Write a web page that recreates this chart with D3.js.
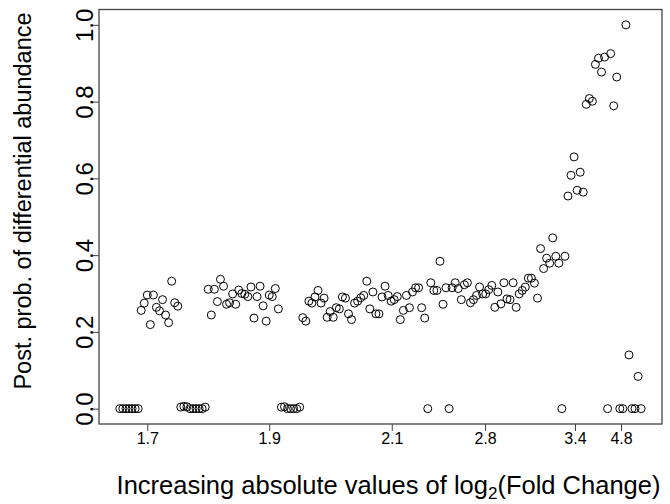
<!DOCTYPE html>
<html>
<head>
<meta charset="utf-8">
<script src="https://cdn.jsdelivr.net/npm/d3@7"></script>
<style>
  html, body { margin: 0; padding: 0; background: #fff; }
  svg { display: block; }
  text { font-family: "Liberation Sans", Arial, Helvetica, sans-serif; fill: #000; }
</style>
</head>
<body>
<svg id="chart" width="670" height="504"></svg>
<script>
// Posterior probability of differential abundance, genes ordered by |log2 FC|
const probValues = [
  0, 0, 0, 0, 0, 0, 0,
  0.256, 0.275, 0.296, 0.219, 0.296, 0.264, 0.255, 0.284, 0.244, 0.224, 0.332, 0.276, 0.267,
  0.004, 0.006, 0.005, 0, 0, 0, 0, 0, 0.004,
  0.311, 0.244, 0.311, 0.279, 0.337, 0.319, 0.272, 0.276, 0.299, 0.272, 0.309, 0.300,
  0.298, 0.292, 0.317, 0.236, 0.292, 0.319, 0.268, 0.228, 0.296, 0.292, 0.313, 0.260,
  0.004, 0.005, 0, 0, 0, 0, 0.004,
  0.237, 0.228, 0.280, 0.275, 0.291, 0.308, 0.275, 0.288, 0.238, 0.253, 0.238, 0.263,
  0.260, 0.291, 0.288, 0.247, 0.232, 0.275, 0.280, 0.289, 0.295, 0.332, 0.260, 0.304,
  0.247, 0.247, 0.291, 0.319, 0.295, 0.280, 0.284, 0.292, 0.232, 0.256, 0.295, 0.263,
  0.304, 0.315, 0.315, 0.263, 0.236, 0, 0.328, 0.308, 0.308, 0.384, 0.272, 0.315,
  0, 0.315, 0.328, 0.313, 0.284, 0.323, 0.328, 0.276, 0.284, 0.295, 0.317,
  0.299, 0.299, 0.310, 0.321, 0.264, 0.304, 0.273, 0.328, 0.286, 0.284, 0.328, 0.264,
  0.299, 0.308, 0.317, 0.340, 0.340, 0.327, 0.288,
  0.417, 0.365, 0.392, 0.379, 0.445, 0.397, 0.379, 0, 0.397,
  0.554, 0.608, 0.656, 0.569, 0.616, 0.564,
  0.793, 0.808, 0.801, 0.897, 0.913, 0.877, 0.916, 0, 0.925, 0.789, 0.864,
  0, 0, 1.000, 0.140, 0, 0, 0.084, 0
];

// x-axis ticks: positions (gene rank) and their |log2 FC| labels
const xTickPositions = [9, 49, 89.2, 119.8, 149.3, 164.4];
const xTickLabels = ["1.7", "1.9", "2.1", "2.8", "3.4", "4.8"];
const yTickValues = [0, 0.2, 0.4, 0.6, 0.8, 1.0];

const points = probValues.map((v, i) => ({ idx: i, v: v }));

const svg = d3.select("#chart");
const mLeft = 99, mRight = 662, mTop = 9.5, mBottom = 424;

const n = probValues.length - 1;
const x = d3.scaleLinear().domain([-0.04 * n, n * 1.04]).range([mLeft, mRight]);
const y = d3.scaleLinear().domain([-0.04, 1.04]).range([mBottom, mTop]);

const axisColor = "#444";

// points
svg.append("g")
  .selectAll("circle")
  .data(points)
  .join("circle")
  .attr("cx", d => x(d.idx))
  .attr("cy", d => y(d.v))
  .attr("r", 4)
  .attr("fill", "none")
  .attr("stroke", "#000")
  .attr("stroke-width", 1);

// box
svg.append("rect")
  .attr("x", mLeft).attr("y", mTop)
  .attr("width", mRight - mLeft).attr("height", mBottom - mTop)
  .attr("fill", "none")
  .attr("stroke", axisColor)
  .attr("stroke-width", 1.3);

// x axis
const xAxis = d3.axisBottom(x)
  .tickValues(xTickPositions)
  .tickFormat((d, i) => xTickLabels[i])
  .tickSize(7)
  .tickSizeOuter(0);
const gx = svg.append("g").attr("transform", `translate(0,${mBottom})`).call(xAxis);
gx.select(".domain").remove();
gx.selectAll(".tick line").attr("stroke", axisColor).attr("stroke-width", 1);
gx.selectAll(".tick text")
  .attr("y", 19.5).attr("dy", 0)
  .style("font-size", "16px")
  .style("font-family", '"Liberation Sans", Arial, Helvetica, sans-serif')
  .attr("fill", "#000");

// y axis
const yAxis = d3.axisLeft(y)
  .tickValues(yTickValues)
  .tickFormat(d3.format(".1f"))
  .tickSize(6)
  .tickSizeOuter(0);
const gy = svg.append("g").attr("transform", `translate(${mLeft},0)`).call(yAxis);
gy.select(".domain").remove();
gy.selectAll(".tick line").attr("stroke", axisColor).attr("stroke-width", 1);
gy.selectAll(".tick text")
  .attr("x", 0).attr("y", 0).attr("dy", 0)
  .attr("text-anchor", "middle")
  .attr("transform", "translate(-6,0) rotate(-90)")
  .style("font-size", "24px")
  .style("font-family", '"Liberation Sans", Arial, Helvetica, sans-serif')
  .attr("fill", "#000");

// axis titles
const xt = svg.append("text")
  .attr("x", (mLeft + mRight) / 2 + 8)
  .attr("y", 494)
  .attr("text-anchor", "middle")
  .style("font-size", "25.5px");
xt.append("tspan").text("Increasing absolute values of log");
xt.append("tspan").text("2").style("font-size", "17px").attr("dy", 5);
xt.append("tspan").text("(Fold Change)").attr("dy", -5);

svg.append("text")
  .attr("transform", "translate(31,201) rotate(-90)")
  .attr("text-anchor", "middle")
  .style("font-size", "23.5px")
  .text("Post. prob. of differential abundance");
</script>
</body>
</html>
